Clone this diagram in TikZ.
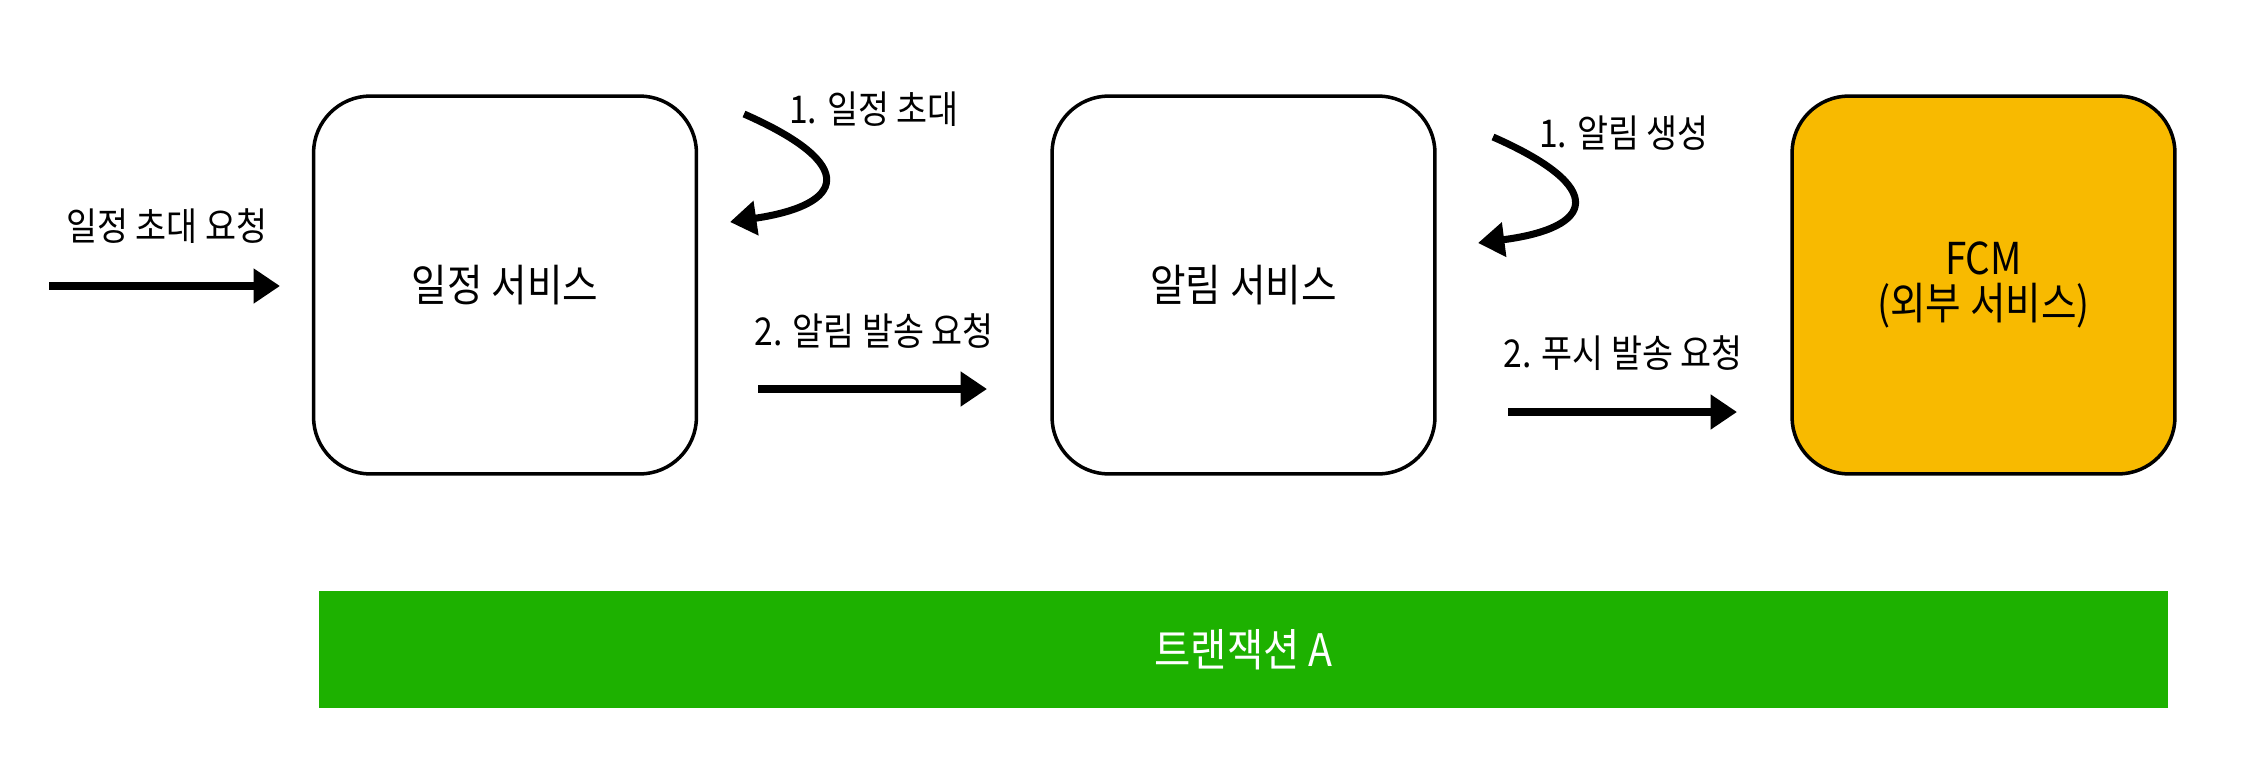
\documentclass[tikz,border=0pt]{standalone}
\usepackage{fontspec}
\setmainfont[FakeStretch=0.88]{Noto Sans CJK KR}
\usetikzlibrary{arrows.meta}
\definecolor{fcmfill}{HTML}{F8BA00}
\definecolor{txgreen}{HTML}{1DB100}
\begin{document}
\begin{tikzpicture}[x=0.02cm,y=-0.02cm,
  svc/.style={draw=black, line width=2pt, rounded corners=1.14cm, minimum width=7.66cm, minimum height=7.56cm, font=\fontsize{25}{26}\selectfont, align=center},
  lbl/.style={inner sep=0pt, font=\fontsize{21.8}{24}\selectfont},
  flow/.style={line width=4pt, -{Triangle[length=15pt,width=19pt]}},
  txbar/.style={fill=txgreen, minimum width=36.98cm, minimum height=2.34cm, text=white, font=\fontsize{25.5}{26}\selectfont}
]
\useasboundingbox (0,0) rectangle (2244,764);
% boxes
\node[svc] (cal) at (505,285) {일정 서비스};
\node[svc] (noti) at (1243.5,285) {알림 서비스};
\node[svc, fill=fcmfill] (fcm) at (1983.5,285) {FCM\\(외부 서비스)};
\node[txbar] (tx) at (1243.5,649.5) {트랜잭션 A};
% input arrow
\coordinate (in0) at (49,286);
\coordinate (in1) at (280,286);
\draw[flow] (in0) -- (in1);
\node[lbl] (linput) at (167,226) {일정 초대 요청};
% self call 1
\coordinate (s1a) at (744,114);
\coordinate (s1b) at (730,222);
\draw[flow] (s1a) .. controls (860,165) and (845,205) .. (s1b);
\node[lbl] (ls1) at (874,109) {1. 일정 초대};
% arrow 2
\coordinate (a2a) at (758,389);
\coordinate (a2b) at (987,389);
\draw[flow] (a2a) -- (a2b);
\node[lbl] (la2) at (874,331) {2. 알림 발송 요청};
% self call 2
\coordinate (s2a) at (1493,137);
\coordinate (s2b) at (1478,243);
\draw[flow] (s2a) .. controls (1609,188) and (1594,228) .. (s2b);
\node[lbl] (ls2) at (1624,133) {1. 알림 생성};
% arrow 3
\coordinate (a3a) at (1508,412);
\coordinate (a3b) at (1737,412);
\draw[flow] (a3a) -- (a3b);
\node[lbl] (la3) at (1623,353) {2. 푸시 발송 요청};
\end{tikzpicture}
\end{document}
